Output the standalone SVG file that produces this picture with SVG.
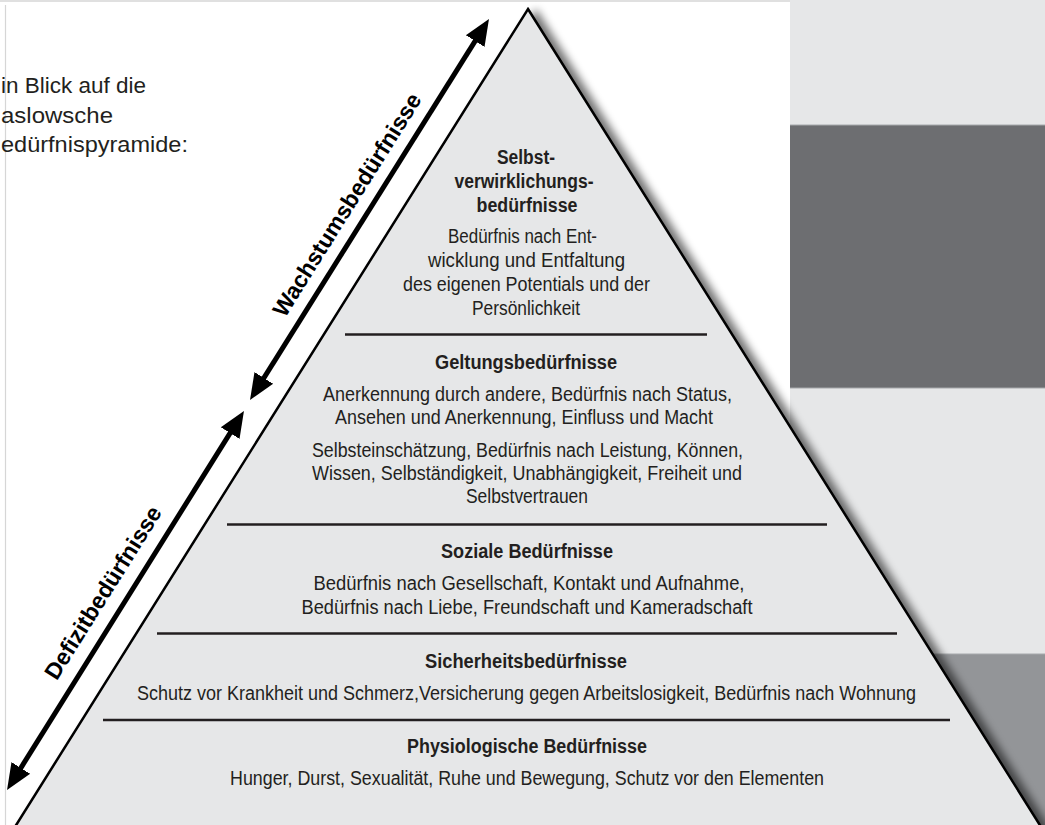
<svg xmlns="http://www.w3.org/2000/svg" width="1045" height="825" viewBox="0 0 1045 825">
<style>
.t{font-family:"Liberation Sans",Arial,sans-serif;font-size:19.5px;fill:#231f20;text-anchor:middle}
.b{font-weight:bold}
.ti{font-family:"Liberation Sans",Arial,sans-serif;font-size:22px;fill:#231f20}
.lab{font-family:"Liberation Sans",Arial,sans-serif;font-size:23px;font-weight:bold;fill:#000;text-anchor:middle}
.div{stroke:#231f20;stroke-width:2.5}
.arr{stroke:#000;stroke-width:5;fill:none;marker-start:url(#ah);marker-end:url(#ah)}
</style>
<defs>
<marker id="ah" markerUnits="userSpaceOnUse" markerWidth="28" markerHeight="24" viewBox="0 -12 28 24" refX="1" refY="0" orient="auto-start-reverse">
<path d="M0,-11 L26,0 L0,11 z" fill="#000"/>
</marker>
<filter id="sh" x="-5%" y="-5%" width="115%" height="115%">
<feGaussianBlur in="SourceAlpha" stdDeviation="4"/>
<feOffset dx="8" dy="2"/>
<feComponentTransfer><feFuncA type="linear" slope="0.55"/></feComponentTransfer>
<feMerge><feMergeNode/><feMergeNode in="SourceGraphic"/></feMerge>
</filter>
</defs>
<rect x="0" y="0" width="1045" height="825" fill="#fff"/>
<g id="panels">
<rect x="790" y="0" width="255" height="125" fill="#e6e7e8"/>
<rect x="790" y="125" width="255" height="263" fill="#6d6e71"/>
<rect x="790" y="388" width="255" height="266" fill="#e6e7e8"/>
<rect x="790" y="654" width="255" height="171" fill="#939598"/>
<line x1="790" y1="125" x2="1045" y2="125" stroke="#a7a9ac" stroke-width="1"/>
<line x1="790" y1="388" x2="1045" y2="388" stroke="#a7a9ac" stroke-width="1"/>
<line x1="790" y1="654" x2="1045" y2="654" stroke="#a7a9ac" stroke-width="1"/>
</g>
<line x1="0" y1="1" x2="790" y2="1" stroke="#e0e0e0" stroke-width="2"/>
<line x1="5.5" y1="5" x2="5.5" y2="825" stroke="#d6d6d6" stroke-width="1.2"/>
<g id="title">
<text class="ti" x="1" y="93" textLength="145" lengthAdjust="spacingAndGlyphs">in Blick auf die</text>
<text class="ti" x="1" y="122.5" textLength="112" lengthAdjust="spacingAndGlyphs">aslowsche</text>
<text class="ti" x="1" y="152" textLength="187" lengthAdjust="spacingAndGlyphs">edürfnispyramide:</text>
</g>
<g id="pyramid">
<polygon points="528,9 1043,830 13,830" fill="#e6e7e8" stroke="#000" stroke-width="2.5" stroke-linejoin="miter" filter="url(#sh)"/>
</g>
<g id="dividers">
<line class="div" x1="345" y1="334.5" x2="707" y2="334.5"/>
<line class="div" x1="227" y1="524.5" x2="827" y2="524.5"/>
<line class="div" x1="157" y1="633.5" x2="897" y2="633.5"/>
<line class="div" x1="103" y1="720" x2="950" y2="720"/>
</g>
<g id="level-selbstverwirklichung">
<text class="t b" x="526" y="164" textLength="58" lengthAdjust="spacingAndGlyphs">Selbst-</text>
<text class="t b" x="524" y="188" textLength="139" lengthAdjust="spacingAndGlyphs">verwirklichungs-</text>
<text class="t b" x="527" y="212" textLength="101" lengthAdjust="spacingAndGlyphs">bedürfnisse</text>
<text class="t" x="522.5" y="242.5" textLength="149" lengthAdjust="spacingAndGlyphs">Bedürfnis nach Ent-</text>
<text class="t" x="526.5" y="267" textLength="197" lengthAdjust="spacingAndGlyphs">wicklung und Entfaltung</text>
<text class="t" x="526.5" y="291" textLength="247" lengthAdjust="spacingAndGlyphs">des eigenen Potentials und der</text>
<text class="t" x="526" y="315" textLength="108" lengthAdjust="spacingAndGlyphs">Persönlichkeit</text>
</g>
<g id="level-geltung">
<text class="t b" x="526" y="369" textLength="182" lengthAdjust="spacingAndGlyphs">Geltungsbedürfnisse</text>
<text class="t" x="527.5" y="401" textLength="409" lengthAdjust="spacingAndGlyphs">Anerkennung durch andere, Bedürfnis nach Status,</text>
<text class="t" x="524" y="423.5" textLength="378" lengthAdjust="spacingAndGlyphs">Ansehen und Anerkennung, Einfluss und Macht</text>
<text class="t" x="527.5" y="457" textLength="431" lengthAdjust="spacingAndGlyphs">Selbsteinschätzung, Bedürfnis nach Leistung, Können,</text>
<text class="t" x="527" y="480" textLength="430" lengthAdjust="spacingAndGlyphs">Wissen, Selbständigkeit, Unabhängigkeit, Freiheit und</text>
<text class="t" x="527" y="503" textLength="122" lengthAdjust="spacingAndGlyphs">Selbstvertrauen</text>
</g>
<g id="level-sozial">
<text class="t b" x="527" y="558" textLength="172" lengthAdjust="spacingAndGlyphs">Soziale Bedürfnisse</text>
<text class="t" x="529" y="590" textLength="431" lengthAdjust="spacingAndGlyphs">Bedürfnis nach Gesellschaft, Kontakt und Aufnahme,</text>
<text class="t" x="527" y="614" textLength="451" lengthAdjust="spacingAndGlyphs">Bedürfnis nach Liebe, Freundschaft und Kameradschaft</text>
</g>
<g id="level-sicherheit">
<text class="t b" x="526" y="668" textLength="202" lengthAdjust="spacingAndGlyphs">Sicherheitsbedürfnisse</text>
<text class="t" x="526.5" y="700" textLength="779" lengthAdjust="spacingAndGlyphs">Schutz vor Krankheit und  Schmerz,Versicherung gegen Arbeitslosigkeit, Bedürfnis nach Wohnung</text>
</g>
<g id="level-physiologisch">
<text class="t b" x="527" y="753" textLength="240" lengthAdjust="spacingAndGlyphs">Physiologische Bedürfnisse</text>
<text class="t" x="527" y="785" textLength="594" lengthAdjust="spacingAndGlyphs">Hunger, Durst, Sexualität, Ruhe und Bewegung, Schutz vor den Elementen</text>
</g>
<g id="connectors">
<line class="arr" x1="263.3" y1="378.8" x2="475.7" y2="40.2"/>
<line class="arr" x1="20.3" y1="768.8" x2="230.7" y2="432.2"/>
</g>
<g id="arrow-labels">
<text class="lab" transform="translate(353.6,209) rotate(-57.9)">Wachstumsbedürfnisse</text>
<text class="lab" transform="translate(109.6,596.8) rotate(-57.9)">Defizitbedürfnisse</text>
</g>
</svg>
